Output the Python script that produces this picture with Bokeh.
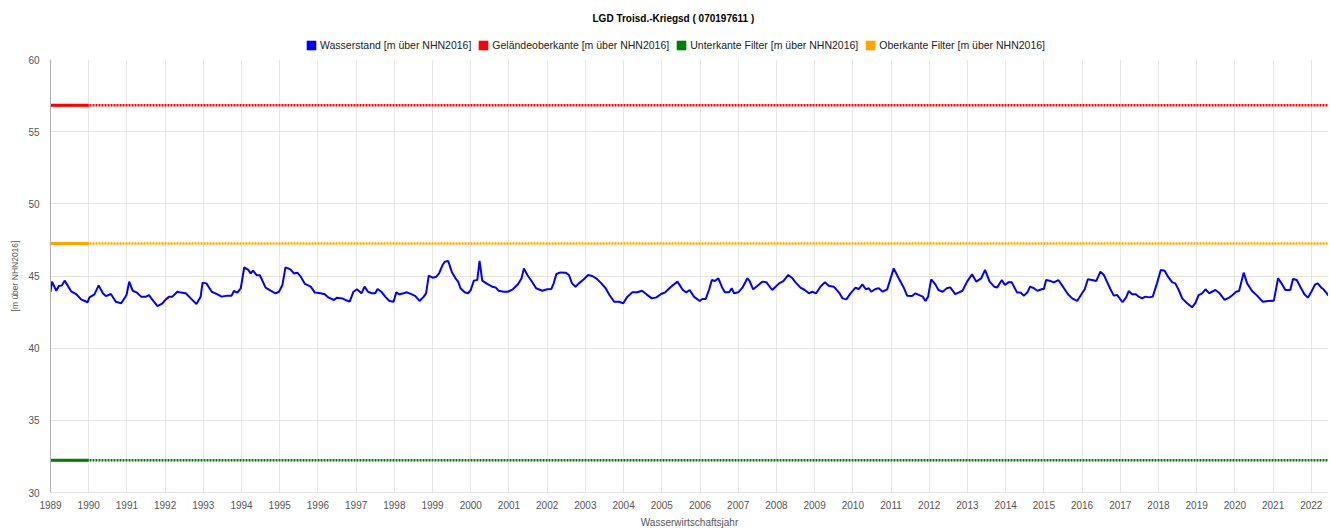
from bokeh.plotting import figure
from bokeh.layouts import column
from bokeh.models import Range1d, FixedTicker, Legend, LegendItem, ColumnDataSource
from bokeh.embed import file_html
from bokeh.resources import INLINE

# ---------------- data ----------------
title_text = "LGD Troisd.-Kriegsd ( 070197611 )"
x_label = "Wasserwirtschaftsjahr"
y_label = "[m über NHN2016]"
series_names = [
    "Wasserstand [m über NHN2016]",
    "Geländeoberkante [m über NHN2016]",
    "Unterkante Filter [m über NHN2016]",
    "Oberkante Filter [m über NHN2016]",
]
year_ticks = list(range(1989, 2023))
y_ticks = [30, 35, 40, 45, 50, 55, 60]

# time in decimal (water) years
t_wasserstand = [
    1989.00, 1989.04, 1989.15, 1989.22, 1989.30, 1989.37, 1989.43, 1989.54, 1989.67, 1989.80, 1989.97,
    1990.02, 1990.15, 1990.26, 1990.37, 1990.45, 1990.58, 1990.71, 1990.85, 1990.99,
    1991.06, 1991.15, 1991.25, 1991.37, 1991.50, 1991.58, 1991.67, 1991.80, 1991.93,
    1992.02, 1992.11, 1992.19, 1992.32, 1992.41, 1992.54, 1992.67, 1992.82, 1992.93, 1992.98,
    1993.08, 1993.22, 1993.37, 1993.48, 1993.63, 1993.74, 1993.80, 1993.89, 1993.98,
    1994.07, 1994.18, 1994.24, 1994.30, 1994.39, 1994.48, 1994.63, 1994.76, 1994.89, 1994.98,
    1995.07, 1995.15, 1995.28, 1995.37, 1995.46, 1995.55, 1995.66, 1995.81, 1995.92,
    1996.07, 1996.18, 1996.28, 1996.42, 1996.50, 1996.63, 1996.72, 1996.83, 1996.93,
    1997.02, 1997.14, 1997.22, 1997.31, 1997.41, 1997.50, 1997.56, 1997.66, 1997.76, 1997.87, 1997.98,
    1998.05, 1998.13, 1998.24, 1998.33, 1998.46, 1998.55, 1998.66, 1998.77, 1998.83, 1998.90,
    1999.00, 1999.10, 1999.17, 1999.26, 1999.32, 1999.41, 1999.50, 1999.60, 1999.67, 1999.73, 1999.84, 1999.93,
    2000.00, 2000.08, 2000.17, 2000.23, 2000.30, 2000.43, 2000.56, 2000.65, 2000.73, 2000.86, 2000.97,
    2001.10, 2001.24, 2001.33, 2001.39, 2001.48, 2001.59, 2001.71, 2001.87,
    2002.00, 2002.11, 2002.17, 2002.24, 2002.35, 2002.48, 2002.57, 2002.65, 2002.74, 2002.83, 2002.96,
    2003.07, 2003.18, 2003.28, 2003.40, 2003.53, 2003.63, 2003.75, 2003.88, 2003.99,
    2004.10, 2004.23, 2004.36, 2004.48, 2004.60, 2004.74, 2004.86, 2004.98,
    2005.09, 2005.24, 2005.41, 2005.55, 2005.64, 2005.73, 2005.84, 2005.99,
    2006.06, 2006.15, 2006.24, 2006.31, 2006.39, 2006.48, 2006.57, 2006.65, 2006.76, 2006.83, 2006.89,
    2007.00, 2007.11, 2007.24, 2007.30, 2007.39, 2007.50, 2007.63, 2007.74, 2007.89,
    2008.07, 2008.18, 2008.31, 2008.42, 2008.50, 2008.63, 2008.74, 2008.85, 2008.94,
    2009.04, 2009.15, 2009.27, 2009.37, 2009.50, 2009.64, 2009.73, 2009.83, 2009.94,
    2010.07, 2010.16, 2010.25, 2010.34, 2010.42, 2010.48, 2010.59, 2010.68, 2010.78, 2010.90,
    2011.07, 2011.20, 2011.33, 2011.42, 2011.55, 2011.64, 2011.77, 2011.83, 2011.90, 2011.97,
    2012.05, 2012.16, 2012.24, 2012.35, 2012.46, 2012.55, 2012.68, 2012.78, 2012.87, 2012.99,
    2013.12, 2013.23, 2013.36, 2013.46, 2013.58, 2013.70, 2013.78, 2013.90, 2013.98,
    2014.07, 2014.16, 2014.22, 2014.30, 2014.39, 2014.48, 2014.57, 2014.64, 2014.74, 2014.83, 2014.96,
    2015.00, 2015.06, 2015.18, 2015.26, 2015.38, 2015.50, 2015.63, 2015.74, 2015.87,
    2016.00, 2016.07, 2016.15, 2016.26, 2016.37, 2016.48, 2016.57, 2016.66, 2016.74, 2016.83, 2016.92,
    2017.06, 2017.15, 2017.22, 2017.31, 2017.41, 2017.48, 2017.57, 2017.66, 2017.75, 2017.85, 2017.96,
    2018.06, 2018.16, 2018.25, 2018.36, 2018.44, 2018.53, 2018.62, 2018.75, 2018.88, 2018.97,
    2019.05, 2019.14, 2019.23, 2019.33, 2019.40, 2019.49, 2019.60, 2019.73, 2019.85, 2019.94,
    2020.03, 2020.11, 2020.23, 2020.32, 2020.45, 2020.58, 2020.73, 2020.87,
    2021.02, 2021.13, 2021.22, 2021.32, 2021.45, 2021.52, 2021.62, 2021.71, 2021.82, 2021.91,
    2022.00, 2022.10, 2022.17, 2022.26, 2022.32, 2022.45,
]

wasserstand = [
    43.91, 44.61, 43.98, 44.31, 44.35, 44.68, 44.42, 43.94, 43.75, 43.38, 43.18,
    43.52, 43.73, 44.35, 43.80, 43.61, 43.75, 43.22, 43.11, 43.68,
    44.61, 43.98, 43.87, 43.57, 43.57, 43.68, 43.34, 42.92, 43.11,
    43.38, 43.57, 43.57, 43.91, 43.85, 43.80, 43.45, 43.06, 43.57, 44.54,
    44.49, 43.91, 43.73, 43.57, 43.64, 43.64, 43.96, 43.85, 44.15,
    45.60, 45.42, 45.18, 45.37, 45.07, 45.05, 44.19, 43.98, 43.80, 43.91,
    44.38, 45.60, 45.46, 45.18, 45.23, 44.95, 44.45, 44.26, 43.85,
    43.80, 43.73, 43.50, 43.34, 43.50, 43.45, 43.34, 43.22, 43.91,
    44.08, 43.80, 44.26, 43.91, 43.80, 43.80, 44.10, 43.91, 43.57, 43.27, 43.22,
    43.87, 43.73, 43.80, 43.87, 43.73, 43.61, 43.27, 43.57, 43.80, 45.02,
    44.88, 44.95, 45.18, 45.76, 45.99, 46.04, 45.30, 44.84, 44.61, 44.15, 43.87, 43.80,
    44.03, 44.68, 44.72, 46.04, 44.68, 44.45, 44.26, 44.21, 43.98, 43.91, 43.91,
    44.08, 44.45, 44.84, 45.53, 45.07, 44.65, 44.15, 43.98,
    44.08, 44.10, 44.49, 45.14, 45.25, 45.23, 45.07, 44.49, 44.26, 44.49, 44.77,
    45.07, 45.00, 44.84, 44.54, 44.15, 43.68, 43.22, 43.22, 43.11,
    43.57, 43.87, 43.87, 43.98, 43.73, 43.45, 43.52, 43.75,
    43.87, 44.26, 44.61, 44.03, 43.87, 44.03, 43.57, 43.27,
    43.41, 43.41, 44.08, 44.72, 44.65, 44.84, 44.26, 43.87, 43.87, 44.15, 43.80,
    43.87, 44.19, 44.84, 44.65, 44.08, 44.31, 44.61, 44.56, 44.03,
    44.49, 44.65, 45.07, 44.84, 44.56, 44.19, 44.03, 43.80, 43.91,
    43.80, 44.26, 44.56, 44.33, 44.26, 43.85, 43.45, 43.38, 43.80,
    44.19, 44.10, 44.42, 44.08, 44.15, 43.91, 44.10, 44.15, 43.91, 44.08,
    45.53, 44.84, 44.21, 43.64, 43.61, 43.80, 43.64, 43.57, 43.27, 43.57,
    44.77, 44.42, 44.03, 43.91, 44.15, 44.21, 43.75, 43.87, 43.98, 44.61,
    45.12, 44.61, 44.84, 45.42, 44.61, 44.26, 44.21, 44.72, 44.38,
    44.56, 44.56, 44.26, 43.85, 43.85, 43.64, 43.87, 44.26, 44.15, 43.98, 44.10,
    44.10, 44.72, 44.65, 44.56, 44.72, 44.26, 43.73, 43.45, 43.27,
    43.80, 44.08, 44.77, 44.72, 44.65, 45.30, 45.07, 44.56, 44.10, 43.64, 43.68,
    43.18, 43.50, 43.96, 43.73, 43.73, 43.57, 43.45, 43.57, 43.52, 43.57, 44.49,
    45.42, 45.37, 44.95, 44.56, 44.49, 44.03, 43.45, 43.11, 42.83, 43.15,
    43.68, 43.80, 44.08, 43.80, 43.91, 44.03, 43.80, 43.34, 43.50, 43.68,
    43.91, 43.96, 45.23, 44.49, 43.96, 43.64, 43.22, 43.27,
    43.29, 44.84, 44.49, 44.03, 44.03, 44.79, 44.72, 44.26, 43.73, 43.50,
    43.91, 44.42, 44.49, 44.19, 44.08, 43.64,
]
assert len(t_wasserstand) == len(wasserstand)

# constant reference levels
t_span = [1989.0, 2022.45]          # whole record
t_dense = [1989.0, 1990.0]          # first year: dense daily points
gelaendeoberkante = 56.83
oberkante_filter = 47.25
unterkante_filter = 32.23

colors = ["#0000ff", "#ff0000", "#008000", "#ffa500"]

FONT = "Liberation Sans"
W = 1328
HEADER_H = 51
MAIN_H = 479

# ---------------- header: title + legend ----------------
head = figure(
    width=W, height=HEADER_H, x_range=Range1d(0, 1), y_range=Range1d(0, 1),
    output_backend="svg", toolbar_location=None,
    x_axis_location=None, y_axis_location=None,
    min_border_left=16, min_border_right=0, min_border_top=23, min_border_bottom=0,
    outline_line_color=None, border_fill_color="white", background_fill_color="white",
)
head.grid.visible = False
head.title.text = title_text
head.title.align = "left"
head.title.offset = 542
head.title.standoff = 0
head.title.text_font = FONT
head.title.text_font_size = "10px"
head.title.text_font_style = "bold"
head.title.text_color = "#000000"

nan = float("nan")
items = []
for name, col in zip(series_names, colors):
    r = head.quad(left=[nan], right=[nan], top=[nan], bottom=[nan], fill_color=col, line_color=None)
    items.append(LegendItem(label=name, renderers=[r]))

legend = Legend(
    items=items, orientation="horizontal", location=(255, 0),
    glyph_width=12, glyph_height=12, label_standoff=3, spacing=6,
    label_text_font=FONT, label_text_font_size="10.5px", label_text_color="#222222",
    label_height=12, padding=1, margin=0, border_line_color=None,
    background_fill_alpha=0,
)
head.add_layout(legend, "center")

# ---------------- main plot ----------------
p = figure(
    width=W, height=MAIN_H,
    x_range=Range1d(1989.0, 2022.45), y_range=Range1d(30, 60),
    output_backend="svg", toolbar_location=None,
    min_border_left=50, min_border_right=0, min_border_top=8, min_border_bottom=37,
    outline_line_color=None, background_fill_color="white", border_fill_color="white",
)

p.xgrid.grid_line_color = "#e8e8e8"
p.ygrid.grid_line_color = "#e4e4e4"

p.xaxis.ticker = FixedTicker(ticks=year_ticks)
p.yaxis.ticker = FixedTicker(ticks=y_ticks)
for ax in (p.xaxis[0], p.yaxis[0]):
    ax.major_tick_in = 0
    ax.major_tick_out = 0
    ax.minor_tick_in = 0
    ax.minor_tick_out = 0
    ax.major_label_text_font = FONT
    ax.major_label_text_font_size = "10px"
    ax.major_label_text_color = "#555555"
    ax.axis_label_text_font = FONT
    ax.axis_label_text_font_style = "normal"
    ax.axis_label_text_color = "#555555"
p.xaxis.axis_line_color = "#e4e4e4"
p.yaxis.axis_line_color = "#b0b0b0"
p.xaxis.axis_label = x_label
p.xaxis.axis_label_text_font_size = "10px"
p.xaxis.major_label_standoff = 8
p.xaxis.axis_label_standoff = 5
p.yaxis.axis_label = y_label
p.yaxis.axis_label_text_font_size = "8.5px"
p.yaxis.major_label_standoff = 11
p.yaxis.axis_label_standoff = 5

# reference levels: dense first year then dotted remainder
for val, col in ((gelaendeoberkante, colors[1]), (unterkante_filter, colors[2]), (oberkante_filter, colors[3])):
    p.line(t_span, [val, val], line_color=col, line_width=2.5, line_dash="2 1")
    p.line(t_dense, [val, val], line_color=col, line_width=3)

# water level
src = ColumnDataSource(dict(t=t_wasserstand, v=wasserstand))
p.line("t", "v", source=src, line_color=colors[0], line_width=2)

layout = column(head, p, spacing=0)
open("out.html", "w").write(file_html(layout, INLINE))
